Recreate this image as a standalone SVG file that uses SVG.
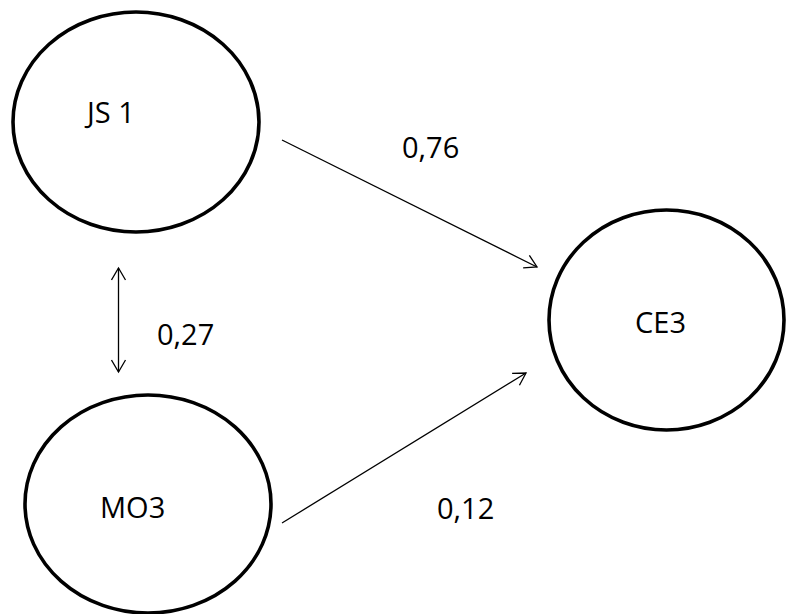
<svg xmlns="http://www.w3.org/2000/svg" width="786" height="614" viewBox="0 0 786 614">
<style>
.node{fill:#fff;stroke:#000;stroke-width:3.6}
.lbl{font-family:"Open Sans","Liberation Sans",sans-serif;font-size:29px;fill:#000}
.conn{stroke:#000;stroke-width:1.3;fill:none}
</style>
<defs>
<marker id="ah" viewBox="-14 -8 16 16" refX="0" refY="0" markerWidth="16" markerHeight="16" markerUnits="userSpaceOnUse" orient="auto-start-reverse">
<path d="M-12,-7 L0,0 L-12,7" fill="none" stroke="#000" stroke-width="1.3"/>
</marker>
</defs>
<rect width="786" height="614" fill="#fff"/>
<g id="connectors">
<line class="conn" x1="282" y1="140" x2="537" y2="267" marker-end="url(#ah)"/>
<line class="conn" x1="282" y1="523" x2="526" y2="373" marker-end="url(#ah)"/>
<line class="conn" x1="118.5" y1="268" x2="118.5" y2="372" marker-start="url(#ah)" marker-end="url(#ah)"/>
</g>
<g id="node-js1">
<ellipse class="node" cx="136" cy="122" rx="123" ry="110"/>
<text class="lbl" x="87" y="123">JS 1</text>
</g>
<g id="node-mo3">
<ellipse class="node" cx="148" cy="504" rx="123" ry="109"/>
<text class="lbl" x="100" y="518">MO3</text>
</g>
<g id="node-ce3">
<ellipse class="node" cx="666.5" cy="320" rx="117.5" ry="110"/>
<text class="lbl" x="635" y="333">CE3</text>
</g>
<g id="labels">
<text class="lbl" x="402" y="158">0,76</text>
<text class="lbl" x="157" y="345">0,27</text>
<text class="lbl" x="437" y="519">0,12</text>
</g>
</svg>
